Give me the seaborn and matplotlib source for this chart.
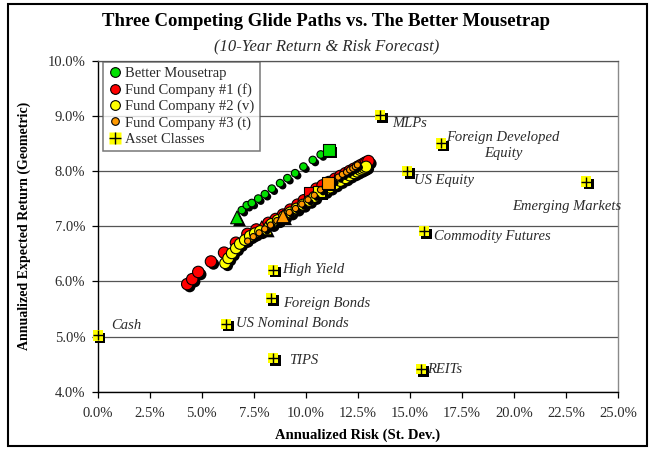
import matplotlib
matplotlib.use("Agg")
import matplotlib.pyplot as plt
import matplotlib.patheffects as pe
from matplotlib.lines import Line2D
from matplotlib.patches import Rectangle
from matplotlib.ticker import FuncFormatter
import seaborn as sns

# --- DATA (risk / return in %) ---
# Better Mousetrap: first point = triangle, last point = square
mouse_risk = [6.69, 6.92, 7.16, 7.40, 7.71, 8.03, 8.36, 8.76, 9.11, 9.48, 9.88, 10.33, 10.71, 11.11]
mouse_ret = [7.16, 7.29, 7.38, 7.42, 7.50, 7.58, 7.68, 7.78, 7.87, 7.96, 8.08, 8.20, 8.30, 8.38]

# Fund Company #1 (f)
f1_risk = [4.30, 4.54, 4.83, 5.44, 6.07, 6.64, 7.19, 7.62, 8.20, 8.55, 8.90, 9.25, 9.60, 9.90,
           10.50, 10.80, 11.10, 11.40, 11.65, 11.90, 12.10, 12.30, 12.50, 12.65, 12.80, 12.90, 13.00]
f1_ret = [5.95, 6.04, 6.17, 6.36, 6.52, 6.70, 6.86, 6.94, 7.06, 7.13, 7.21, 7.30, 7.39, 7.47,
          7.68, 7.74, 7.80, 7.86, 7.91, 7.96, 8.00, 8.04, 8.08, 8.11, 8.14, 8.16, 8.18]
f1_tri = (7.88, 6.99)
f1_sq = (10.20, 7.61)

# Fund Company #2 (v)
f2_risk = [6.12, 6.27, 6.44, 6.64, 6.83, 7.07, 7.31, 7.55, 7.80, 8.35, 8.65, 8.95, 9.25, 9.55,
           9.85, 10.15, 10.40, 10.90, 11.15, 11.40, 11.65, 11.90, 12.10, 12.30, 12.45, 12.60,
           12.70, 12.80, 12.89]
f2_ret = [6.33, 6.42, 6.51, 6.60, 6.68, 6.75, 6.82, 6.87, 6.91, 7.04, 7.11, 7.18, 7.25, 7.32,
          7.39, 7.46, 7.53, 7.64, 7.70, 7.76, 7.82, 7.87, 7.92, 7.96, 7.99, 8.02, 8.04, 8.06, 8.08]
f2_tri = (8.07, 6.96)
f2_sq = (10.64, 7.63)

# Fund Company #3 (t)
f3_risk = [7.20, 7.47, 7.75, 8.02, 8.30, 8.60, 9.20, 9.50, 9.80, 10.10, 10.40, 10.70, 11.30,
           11.55, 11.75, 11.95, 12.10, 12.25, 12.37, 12.47]
f3_ret = [6.73, 6.81, 6.88, 6.95, 7.02, 7.10, 7.25, 7.32, 7.40, 7.48, 7.56, 7.66, 7.83, 7.89,
          7.94, 7.98, 8.02, 8.05, 8.08, 8.11]
f3_tri = (8.90, 7.18)
f3_sq = (11.05, 7.78)

# Asset classes
asset_names = ['Cash', 'US Nominal Bonds', 'TIPS', 'Foreign Bonds', 'High Yield', 'REITs',
               'Commodity Futures', 'US Equity', 'MLPs', 'Foreign Developed\nEquity',
               'Emerging Markets']
asset_risk = [0.0, 6.16, 8.42, 8.32, 8.42, 15.53, 15.67, 14.86, 13.56, 16.49, 23.46]
asset_ret = [5.02, 5.23, 4.61, 5.70, 6.21, 4.41, 6.91, 8.00, 9.01, 8.50, 7.81]

x_ticks = [0.0, 2.5, 5.0, 7.5, 10.0, 12.5, 15.0, 17.5, 20.0, 22.5, 25.0]
y_ticks = [4.0, 5.0, 6.0, 7.0, 8.0, 9.0, 10.0]

# --- STYLE ---
GREEN = '#00e000'
RED = '#ff0000'
YELLOW = '#ffff00'
ORANGE = '#ff9900'
TXT = '#2b2b2b'

# label offsets (points) and alignment for asset labels
LABEL_POS = {
    'Cash': ((10, 7), 'left'),
    'US Nominal Bonds': ((7, 0), 'left'),
    'TIPS': ((11.5, -2), 'left'),
    'Foreign Bonds': ((8.6, -4.3), 'left'),
    'High Yield': ((6.5, 0), 'left'),
    'REITs': ((4.3, 0), 'left'),
    'Commodity Futures': ((7, -3.6), 'left'),
    'US Equity': ((5, -7), 'left'),
    'MLPs': ((8.6, -5.8), 'left'),
    'Foreign Developed\nEquity': ((44.6, -1.4), 'center'),
    'Emerging Markets': ((-14, -18), 'center'),
}

sns.set_theme(style="white")
plt.rcParams['font.family'] = ['Liberation Serif', 'DejaVu Serif']

SHADOW = [pe.SimplePatchShadow(offset=(1.8, -1.8), shadow_rgbFace='black', alpha=1.0), pe.Normal()]

fig = plt.figure(figsize=(6.53, 4.5), dpi=100)
ax = fig.add_axes([0.1496, 0.1296, 0.7973, 0.7355])


def pts(xs, ys, color, size, marker='o', z=3):
    sns.scatterplot(x=xs, y=ys, ax=ax, color=color, s=size, marker=marker,
                    edgecolor='black', linewidth=0.8, path_effects=SHADOW,
                    zorder=z, legend=False)


# Better Mousetrap
pts(mouse_risk[1:-1], mouse_ret[1:-1], GREEN, 30, z=3)
pts(mouse_risk[:1], mouse_ret[:1], GREEN, 85, marker='^', z=3.1)
pts(mouse_risk[-1:], mouse_ret[-1:], GREEN, 70, marker='s', z=3.1)

# Fund Company #1
pts(f1_risk, f1_ret, RED, 68, z=4)
pts([f1_tri[0]], [f1_tri[1]], RED, 70, marker='^', z=4.1)
pts([f1_sq[0]], [f1_sq[1]], RED, 70, marker='s', z=4.1)

# Fund Company #2
pts(f2_risk, f2_ret, YELLOW, 62, z=5)
pts([f2_tri[0]], [f2_tri[1]], YELLOW, 85, marker='^', z=5.1)
pts([f2_sq[0]], [f2_sq[1]], YELLOW, 70, marker='s', z=5.1)

# Fund Company #3
pts(f3_risk, f3_ret, ORANGE, 20, z=6)
pts([f3_tri[0]], [f3_tri[1]], ORANGE, 85, marker='^', z=6.1)
pts([f3_sq[0]], [f3_sq[1]], ORANGE, 70, marker='s', z=6.1)

# Asset classes: yellow square + black cross
sns.scatterplot(x=asset_risk, y=asset_ret, ax=ax, color=YELLOW, s=55, marker='s',
                edgecolor='none', linewidth=0, path_effects=SHADOW, zorder=7, legend=False,
                clip_on=False)
ax.scatter(asset_risk, asset_ret, marker='+', s=45, color='black', linewidths=1.0, zorder=8,
           clip_on=False)
for name, xv, yv in zip(asset_names, asset_risk, asset_ret):
    off, ha = LABEL_POS[name]
    ax.annotate(name, (xv, yv), xytext=off, textcoords='offset points', ha=ha, va='center',
                fontsize=10.5, fontstyle='italic', color=TXT, linespacing=1.35, zorder=9)

# Axes
ax.set_xlim(0, 25)
ax.set_ylim(4, 10)
ax.set_xticks(x_ticks)
ax.set_yticks(y_ticks)
ax.xaxis.set_major_formatter(FuncFormatter(lambda v, p: f"{v:.1f}%"))
ax.yaxis.set_major_formatter(FuncFormatter(lambda v, p: f"{v:.1f}%"))
ax.tick_params(axis='both', which='major', direction='out', length=4, width=0.9,
               color='black', labelsize=10.5, labelcolor=TXT, bottom=True, left=True)
ax.tick_params(axis='x', pad=7)
ax.tick_params(axis='y', pad=5)
ax.yaxis.grid(True, color='#555555', linewidth=0.9)
ax.xaxis.grid(False)
ax.set_axisbelow(True)
for side in ['left', 'bottom']:
    ax.spines[side].set_color('black')
    ax.spines[side].set_linewidth(1.0)
ax.spines['top'].set_color('#555555')
ax.spines['top'].set_linewidth(0.9)
ax.spines['right'].set_color('#8a8a8a')
ax.spines['right'].set_linewidth(1.0)

ax.set_xlabel('Annualized Risk (St. Dev.)', fontsize=10.5, fontweight='bold', color='black',
              labelpad=6)
ax.set_ylabel('Annualized Expected Return (Geometric)', fontsize=10, fontweight='bold',
              color='black', labelpad=12)

fig.text(0.5, 1 - 21 / 450, 'Three Competing Glide Paths vs. The Better Mousetrap',
         ha='center', va='center', fontsize=13.5, fontweight='bold', color='black')
fig.text(0.5, 1 - 46 / 450, '(10-Year Return & Risk Forecast)', ha='center', va='center',
         fontsize=12, fontstyle='italic', color=TXT)

# Legend
handles = [
    Line2D([], [], ls='none', marker='o', ms=7, mfc=GREEN, mec='black', mew=0.8),
    Line2D([], [], ls='none', marker='o', ms=7, mfc=RED, mec='black', mew=0.8),
    Line2D([], [], ls='none', marker='o', ms=7, mfc=YELLOW, mec='black', mew=0.8),
    Line2D([], [], ls='none', marker='o', ms=5.5, mfc=ORANGE, mec='black', mew=0.8),
    (Line2D([], [], ls='none', marker='s', ms=8, mfc=YELLOW, mec='none'),
     Line2D([], [], ls='none', marker='+', ms=8, mec='black', mew=1.0)),
]
labels = ['Better Mousetrap', 'Fund Company #1 (f)', 'Fund Company #2 (v)',
          'Fund Company #3 (t)', 'Asset Classes']
leg = ax.legend(handles, labels, loc='upper left', bbox_to_anchor=(0.01, 0.997),
                borderaxespad=0, frameon=True, fancybox=False, fontsize=10.5,
                handlelength=0.9, handletextpad=0.3, labelspacing=0.2, borderpad=0.35)
leg.get_frame().set_edgecolor('#555555')
leg.get_frame().set_linewidth(1.1)
leg.set_zorder(10)
for t in leg.get_texts():
    t.set_color(TXT)

# outer chart border
fig.patches.append(Rectangle((8 / 653, 4 / 450), 639 / 653, 442 / 450, transform=fig.transFigure,
                             fill=False, edgecolor='black', linewidth=1.5))

fig.savefig('out.png', dpi=100)
